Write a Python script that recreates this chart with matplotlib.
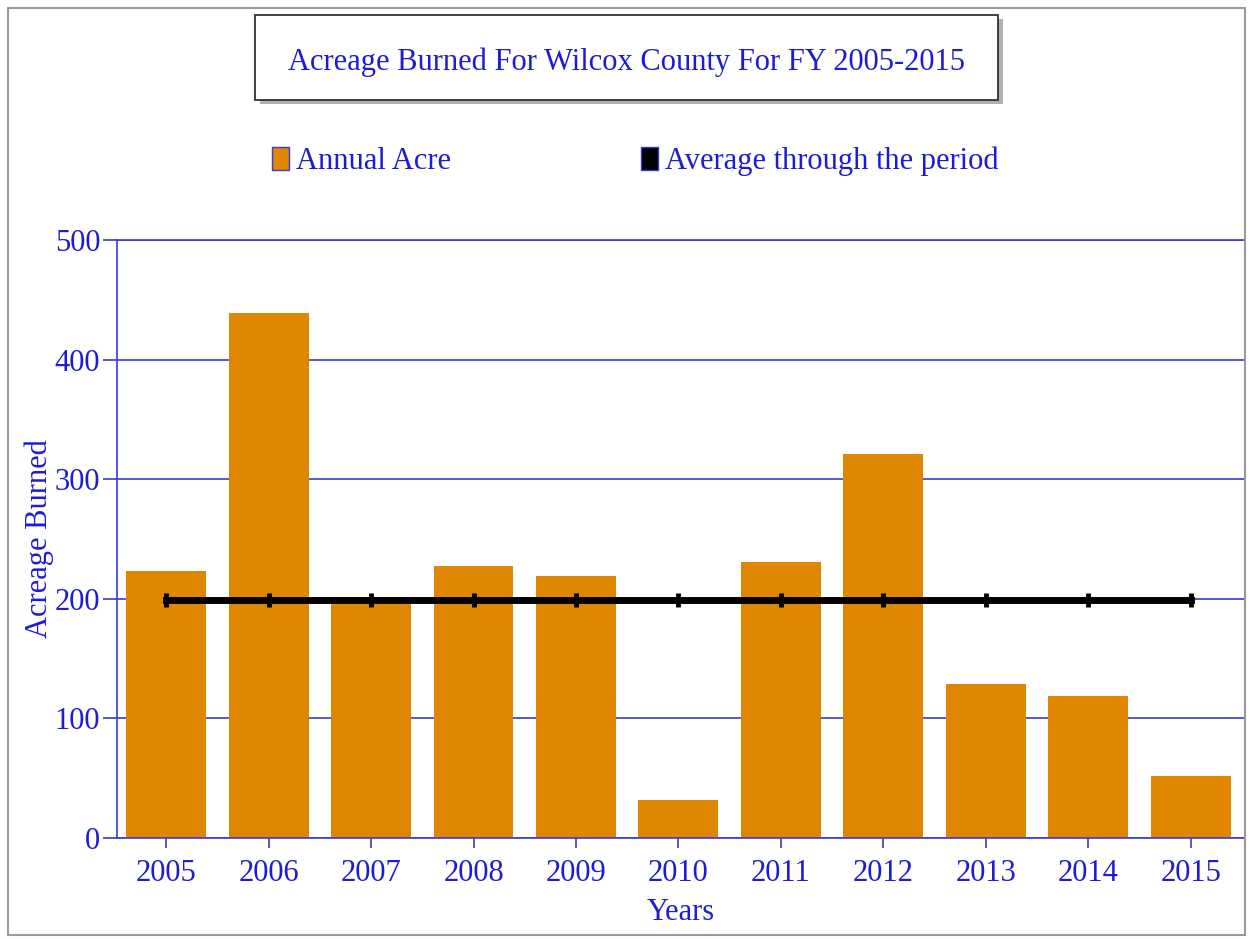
import matplotlib.pyplot as plt
from matplotlib.patches import Patch, Rectangle

years = ["2005", "2006", "2007", "2008", "2009", "2010",
         "2011", "2012", "2013", "2014", "2015"]
annual_acre = [223, 439, 196, 227, 219, 32, 231, 321, 129, 119, 52]
average_acre = [199] * len(years)
y_ticks = [0, 100, 200, 300, 400, 500]

BAR_COLOR = "#e08600"
AXIS_BLUE = "#3a3ad0"
TEXT_BLUE = "#1c1cd6"
FONT = "Liberation Serif"

plt.rcParams["font.family"] = FONT

fig = plt.figure(figsize=(12.5, 9.39), dpi=100)
ax = fig.add_axes([0.0936, 0.1076, 0.9024, 0.6368])

x = list(range(len(years)))
ax.bar(x, annual_acre, width=0.78, color=BAR_COLOR, zorder=2)
ax.plot(x, average_acre, color="black", linewidth=5, marker="|",
        markersize=10, markeredgewidth=3.5, zorder=3)

ax.set_xlim(-0.48, len(years) - 0.47)
ax.set_ylim(0, 500)
ax.set_xticks(x)
ax.set_xticklabels(years)
ax.set_yticks(y_ticks)
ax.yaxis.grid(True, color=AXIS_BLUE, linewidth=1.2, zorder=0)
ax.set_axisbelow(True)

for spine in ax.spines.values():
    spine.set_color(AXIS_BLUE)
    spine.set_linewidth(1.2)

ax.tick_params(axis="both", colors=AXIS_BLUE, labelcolor=TEXT_BLUE,
               labelsize=22, length=7, width=1.2)
ax.tick_params(axis="x", pad=8)
ax.tick_params(axis="y", length=10, pad=2)

ax.set_xlabel("Years", color=TEXT_BLUE, fontsize=22, va="top")
ax.set_ylabel("Acreage Burned", color=TEXT_BLUE, fontsize=22)
ax.xaxis.set_label_coords(0.5, -0.1)
ax.yaxis.set_label_coords(-0.056, 0.5)

# title box with drop shadow
shadow = Rectangle((0.208, 0.889), 0.594, 0.0905, transform=fig.transFigure,
                   facecolor="#b0b0b0", edgecolor="none", zorder=1)
box = Rectangle((0.204, 0.8935), 0.594, 0.0905, transform=fig.transFigure,
                facecolor="white", edgecolor="#333333", linewidth=1.3, zorder=2)
fig.patches.extend([shadow, box])
fig.text(0.501, 0.934, "Acreage Burned For Wilcox County For FY 2005-2015",
         ha="center", va="center", color=TEXT_BLUE, fontsize=22, zorder=3)

handles = [
    Patch(facecolor=BAR_COLOR, edgecolor=AXIS_BLUE, label="Annual Acre"),
    Patch(facecolor="black", edgecolor=AXIS_BLUE, label="Average through the period"),
]
leg = fig.legend(handles=handles, loc="center left",
                 bbox_to_anchor=(0.1956, 0.828), ncol=2, frameon=False,
                 fontsize=22, handlelength=0.55, handleheight=0.8,
                 handletextpad=0.25, columnspacing=6.2)
for text in leg.get_texts():
    text.set_color(TEXT_BLUE)

# thin grey frame round the whole image
frame = Rectangle((0.006, 0.004), 0.99, 0.988, transform=fig.transFigure,
                  facecolor="none", edgecolor="#9a9a9a", linewidth=1.5)
fig.patches.append(frame)

fig.savefig("out.png", dpi=100)
